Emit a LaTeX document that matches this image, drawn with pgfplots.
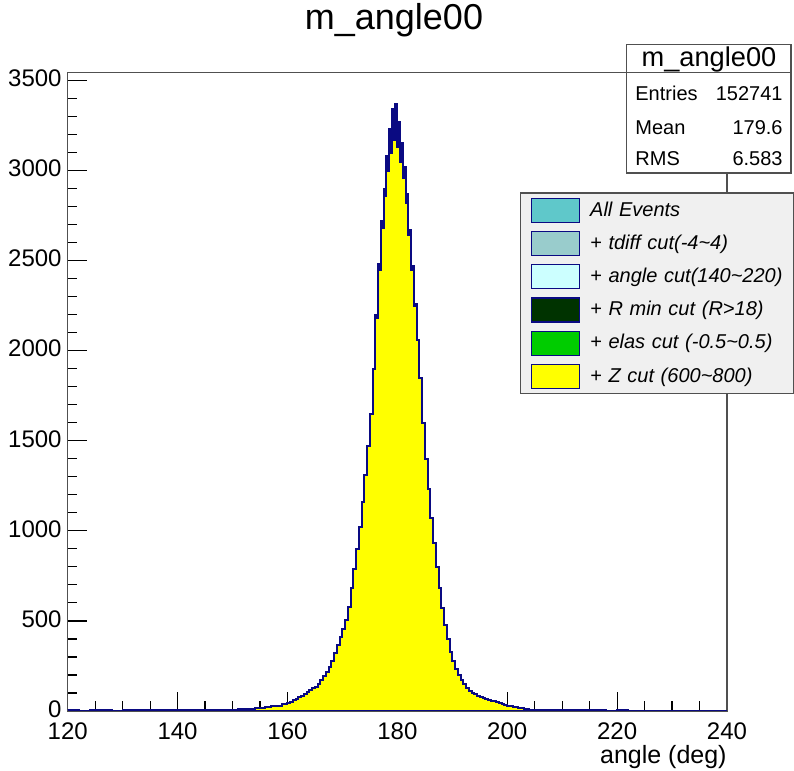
\documentclass[border=0pt]{standalone}
\usepackage{fontspec}
\setmainfont{Liberation Sans}
\usepackage{pgfplots}
\pgfplotsset{compat=1.18}
\usepackage{pgfplotstable}
\definecolor{navyh}{RGB}{10,10,130}
\definecolor{allev}{RGB}{95,200,202}
\definecolor{tdiffc}{RGB}{153,204,204}
\definecolor{anglec}{RGB}{204,255,255}
\definecolor{rminc}{RGB}{0,51,0}
\definecolor{elasc}{RGB}{0,204,0}
\definecolor{zc}{RGB}{255,255,0}
\definecolor{framec}{RGB}{80,80,80}
\definecolor{legbg}{RGB}{240,240,240}

% All Events: peak region (where it sits above the final selection)
\pgfplotstableread{
x y
176 2200
176.5 2480
177 2720
177.5 2900
178 3080
178.5 3230
179 3340
179.5 3370
180 3270
180.5 3150
181 3020
181.5 2870
182 2670
182.5 2470
183 2260
183.5 2060
}\allev

% + Z cut (600~800): final selection
\pgfplotstableread{
x y
120 3
122 2
124 3
126 3
128 2
130 4
132 3
134 3
136 4
138 3
140 4
142 5
144 4
146 5
148 6
150 8
151 9
152 10
153 12
154 14
155 17
156 20
157 25
158 30
159 37
160 45
160.5 52
161 60
161.5 68
162 76
162.5 85
163 95
163.5 105
164 115
164.5 125
165 135
165.5 150
166 170
166.5 192
167 215
167.5 245
168 280
168.5 320
169 365
169.5 410
170 455
170.5 505
171 580
171.5 680
172 790
172.5 900
173 1020
173.5 1160
174 1310
174.5 1470
175 1650
175.5 1900
176 2180
176.5 2450
177 2680
177.5 2860
178 3000
178.5 3100
179 3170
179.5 3180
180 3130
180.5 3050
181 2960
181.5 2820
182 2640
182.5 2450
183 2250
183.5 2060
184 1850
184.5 1600
185 1400
185.5 1230
186 1070
186.5 930
187 800
187.5 680
188 570
188.5 480
189 400
189.5 330
190 275
190.5 235
191 200
191.5 172
192 148
192.5 128
193 112
193.5 100
194 92
194.5 85
195 80
195.5 74
196 68
196.5 63
197 58
197.5 54
198 48
198.5 43
199 38
199.5 33
200 28
201 20
202 14
203 10
204 8
205 7
206 6
207 5
208 5
210 4
212 3
214 3
216 3
218 2
220 3
222 2
224 2
226 2
228 1
230 2
232 1
234 2
236 1
238 1
240 1
}\zcut

\begin{document}
\begin{tikzpicture}
\useasboundingbox (0,0) rectangle (397pt,385.5pt);
\node[anchor=base, inner sep=0pt] at (197pt,370.5pt) {\fontsize{18}{20}\selectfont m\_angle00};
\begin{axis}[
  at={(33.85pt,30pt)}, anchor=south west,
  scale only axis, width=329.65pt, height=319.15pt,
  xmin=120, xmax=240, ymin=0, ymax=3543,
  xtick={120,140,...,240}, ytick={0,500,...,3500},
  minor x tick num=3, minor y tick num=4,
  xtick pos=bottom, ytick pos=left, tick align=inside,
  major tick length=9.5pt, minor tick length=4.75pt,
  axis line style={framec, line width=0.7pt},
  tick style={black, line width=0.6pt},
  tick label style={font=\fontsize{12}{14}\selectfont},
  /pgf/number format/assume math mode=true,
  /pgf/number format/1000 sep={},
  xticklabel style={inner sep=0pt, yshift=-5.6pt},
  yticklabel style={inner sep=0pt, xshift=-2.85pt, yshift=1pt},
  xlabel={angle (deg)},
  xlabel style={at={(rel axis cs:1,0)}, anchor=north east, inner sep=0pt, yshift=-17pt, font=\fontsize{12.5}{14}\selectfont},
  legend style={at={(rel axis cs:0.686,0.8124)}, anchor=north west, fill=legbg, draw=framec, line width=0.7pt,
    inner xsep=5pt, inner ysep=2.3pt, row sep=4pt, column sep=5pt,
    font=\itshape\fontsize{10}{12}\selectfont,
    nodes={inner sep=0pt, text width=97pt, align=left}},
  legend cell align=left,
  legend image code/.code={\draw[#1] (0pt,-6pt) rectangle (24.15pt,6pt);},
]
\addplot[const plot mark left, draw=navyh, line width=1pt, fill=navyh,
  legend image post style={fill=allev, draw=navyh, line width=0.6pt}] table {\allev} \closedcycle;
\addlegendentry{All Events}
\addlegendimage{fill=tdiffc, draw=navyh, line width=0.6pt}
\addlegendentry{+ tdiff cut(-4\textasciitilde 4)}
\addlegendimage{fill=anglec, draw=navyh, line width=0.6pt}
\addlegendentry{+ angle cut(140\textasciitilde 220)}
\addlegendimage{fill=rminc, draw=navyh, line width=0.6pt}
\addlegendentry{+ R min cut (R>18)}
\addlegendimage{fill=elasc, draw=navyh, line width=0.6pt}
\addlegendentry{+ elas cut (-0.5\textasciitilde 0.5)}
\addplot[const plot mark left, draw=navyh, line width=1pt, fill=zc,
  legend image post style={line width=0.6pt}] table {\zcut} \closedcycle;
\addlegendentry{+ Z cut (600\textasciitilde 800)}
\end{axis}
% statistics box
\draw[framec, line width=0.7pt, fill=white] (313.35pt,299pt) rectangle (395.5pt,363.15pt);
\draw[framec, line width=0.7pt] (313.35pt,349.15pt) -- (395.5pt,349.15pt);
\node[anchor=base, inner sep=0pt] at (354.5pt,352.15pt) {\fontsize{13.6}{15}\selectfont m\_angle00};
\begin{scope}[every node/.style={inner sep=0pt, font=\fontsize{10}{12}\selectfont}]
\node[anchor=base west] at (317.5pt,335pt) {Entries};
\node[anchor=base east] at (391.5pt,335pt) {152741};
\node[anchor=base west] at (317.5pt,318.35pt) {Mean};
\node[anchor=base east] at (391.5pt,318.35pt) {179.6};
\node[anchor=base west] at (317.5pt,302.5pt) {RMS};
\node[anchor=base east] at (391.5pt,302.5pt) {6.583};
\end{scope}
\end{tikzpicture}
\end{document}
